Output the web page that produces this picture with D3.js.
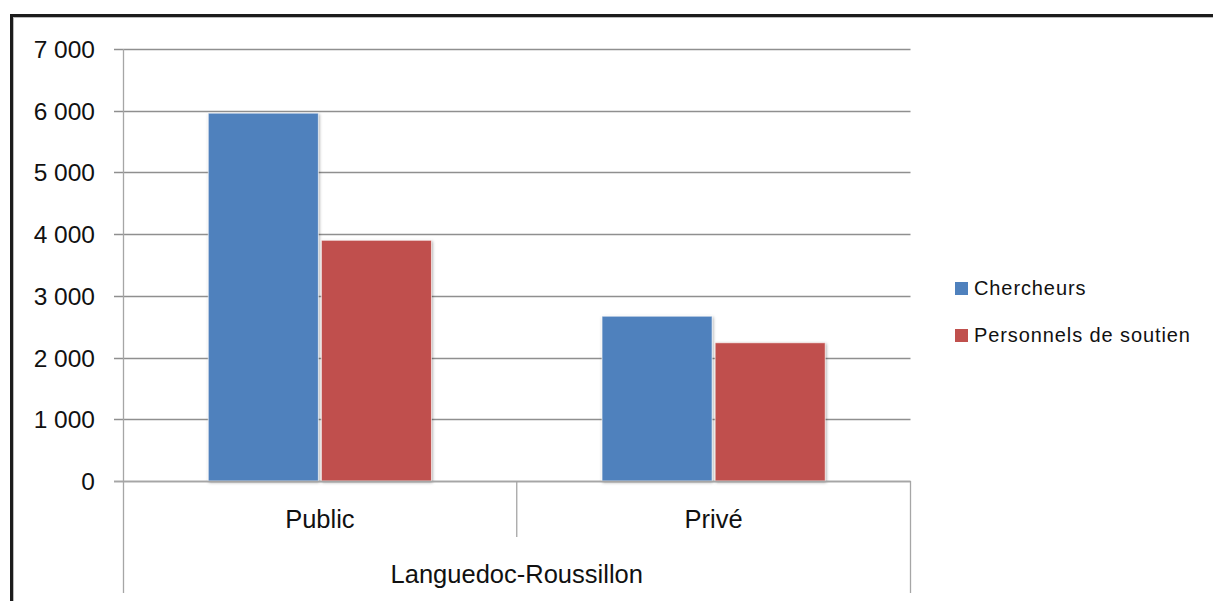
<!DOCTYPE html>
<html>
<head>
<meta charset="utf-8">
<script src="https://cdn.jsdelivr.net/npm/d3@7"></script>
<style>
  html, body { margin: 0; padding: 0; background: #fff; }
  svg { display: block; }
  text { font-family: "Liberation Sans", Arial, sans-serif; fill: #111; }
</style>
</head>
<body>
<svg id="chart" width="1213" height="601"></svg>
<script>
const categories = ["Public", "Privé"];
const groupLabel = "Languedoc-Roussillon";
const seriesNames = ["Chercheurs", "Personnels de soutien"];
const chercheurs = [5960, 2670];
const personnels = [3900, 2240];
const yTicks = [0, 1000, 2000, 3000, 4000, 5000, 6000, 7000];
const colors = ["#4F81BD", "#C0504D"];

const seriesValues = [chercheurs, personnels];
const data = categories.map((c, i) => ({
  cat: c,
  values: seriesNames.map((s, j) => ({ series: s, value: seriesValues[j][i], color: colors[j] }))
}));

const svg = d3.select("#chart");
const W = 1213, H = 601;

const defs = svg.append("defs");
const f = defs.append("filter").attr("id", "shadow").attr("x", "-10%").attr("y", "-10%").attr("width", "120%").attr("height", "120%");
f.append("feDropShadow").attr("dx", 0.8).attr("dy", 1.2).attr("stdDeviation", 1.6).attr("flood-color", "#000").attr("flood-opacity", 0.35);

// outer frame (extends beyond right/bottom edges)
svg.append("rect").attr("x", 11.5).attr("y", 15.5).attr("width", W + 20).attr("height", H + 20)
  .attr("fill", "none").attr("stroke", "#1c1c1c").attr("stroke-width", 3);
svg.append("rect").attr("x", 13.5).attr("y", 17.5).attr("width", W + 20).attr("height", H + 20)
  .attr("fill", "none").attr("stroke", "#bbb").attr("stroke-width", 1);

const plotLeft = 123, plotRight = 910.5, plotTop = 49, plotBottom = 481;

const x0 = d3.scaleBand().domain(categories).range([plotLeft, plotRight]).paddingInner(0).paddingOuter(0);
const x1 = d3.scaleBand().domain(seriesNames).range([0, x0.bandwidth()]).paddingInner(0.027).paddingOuter(0.754);
const y = d3.scaleLinear().domain([0, 7000]).range([plotBottom, plotTop]);

const fmt = v => d3.format(",")(v).replace(/,/g, " ");

// gridlines
const grid = svg.append("g");
grid.selectAll("line").data(yTicks).join("line")
  .attr("x1", plotLeft - 9).attr("x2", plotRight)
  .attr("y1", d => Math.round(y(d)) + 0.5).attr("y2", d => Math.round(y(d)) + 0.5)
  .attr("stroke", "#8f8f8f").attr("stroke-width", 1.3);

// y labels
svg.append("g").selectAll("text").data(yTicks).join("text")
  .attr("x", 95).attr("y", d => y(d) + 9)
  .attr("text-anchor", "end").style("font-size", "24.5px")
  .text(d => fmt(d));

// bars
const groups = svg.append("g").selectAll("g").data(data).join("g")
  .attr("transform", d => `translate(${x0(d.cat)},0)`);
groups.selectAll("rect").data(d => d.values).join("rect")
  .attr("x", d => x1(d.series))
  .attr("y", d => y(d.value))
  .attr("width", x1.bandwidth())
  .attr("height", d => y(0) - y(d.value))
  .attr("fill", d => d.color)
  .attr("stroke", "#fff").attr("stroke-opacity", 0.6).attr("stroke-width", 1)
  .attr("filter", "url(#shadow)");

// axes
const axisColor = "#a6a6a6";
svg.append("line").attr("x1", plotLeft + 0.5).attr("x2", plotLeft + 0.5).attr("y1", plotTop).attr("y2", 593)
  .attr("stroke", axisColor).attr("stroke-width", 1.3);
svg.append("line").attr("x1", plotLeft - 9).attr("x2", plotRight).attr("y1", plotBottom + 0.5).attr("y2", plotBottom + 0.5)
  .attr("stroke", axisColor).attr("stroke-width", 1.3);
svg.append("line").attr("x1", plotRight).attr("x2", plotRight).attr("y1", plotBottom).attr("y2", 593)
  .attr("stroke", axisColor).attr("stroke-width", 1.3);
// separator between categories
categories.slice(1).forEach(c => {
  svg.append("line").attr("x1", x0(c)).attr("x2", x0(c)).attr("y1", plotBottom).attr("y2", 537)
    .attr("stroke", axisColor).attr("stroke-width", 1.3);
});

// category labels
svg.append("g").selectAll("text").data(categories).join("text")
  .attr("x", d => x0(d) + x0.bandwidth() / 2).attr("y", 528)
  .attr("text-anchor", "middle").style("font-size", "25.5px")
  .text(d => d);
svg.append("text").attr("x", (plotLeft + plotRight) / 2).attr("y", 583)
  .attr("text-anchor", "middle").style("font-size", "25.5px")
  .text(groupLabel);

// legend
const legend = svg.append("g").selectAll("g").data(seriesNames).join("g")
  .attr("transform", (d, i) => `translate(955, ${282 + i * 47})`);
legend.append("rect").attr("width", 13).attr("height", 13).attr("fill", (d, i) => colors[i]);
legend.append("text").attr("x", 19).attr("y", 13).style("font-size", "20px").style("letter-spacing", "0.9px")
  .text(d => d);
</script>
</body>
</html>
